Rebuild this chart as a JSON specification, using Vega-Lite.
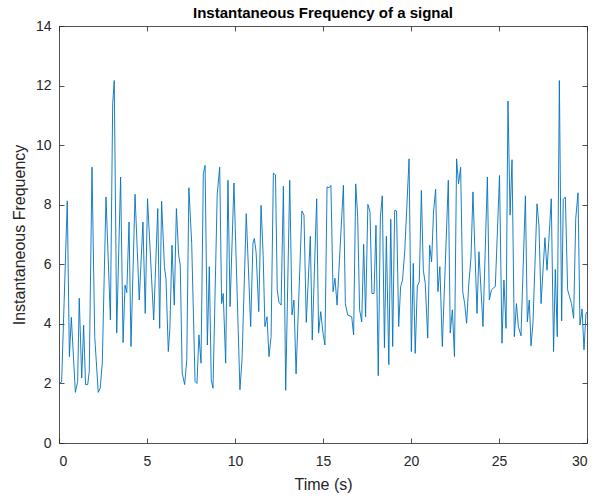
{
  "$schema": "https://vega.github.io/schema/vega-lite/v6.json",
  "width": 528,
  "height": 417,
  "autosize": "none",
  "padding": {"left": 59, "top": 26, "right": 12, "bottom": 55},
  "background": "white",
  "title": {"text": "Instantaneous Frequency of a signal", "font": "Liberation Sans", "fontSize": 15, "fontWeight": "bold", "color": "#000000", "offset": -2},
  "data": {"values": [
    {"t":0.0,"f":2.0},{"t":0.15,"f":2.05},{"t":0.47,"f":8.13},{"t":0.59,"f":2.9},{"t":0.7,"f":4.22},{"t":0.93,"f":1.7},{"t":1.06,"f":2.07},{"t":1.15,"f":4.86},{"t":1.29,"f":2.18},{"t":1.4,"f":3.96},{"t":1.51,"f":1.96},{"t":1.63,"f":1.96},{"t":1.72,"f":2.4},{"t":1.875,"f":9.26},{"t":2.03,"f":3.57},{"t":2.23,"f":1.7},{"t":2.34,"f":1.84},{"t":2.46,"f":2.68},{"t":2.67,"f":8.26},{"t":2.92,"f":4.13},{"t":3.05,"f":11.39},{"t":3.14,"f":12.17},{"t":3.28,"f":3.69},{"t":3.5,"f":8.93},{"t":3.64,"f":3.37},{"t":3.75,"f":5.3},{"t":3.85,"f":5.05},{"t":3.98,"f":7.42},{"t":4.09,"f":3.24},{"t":4.32,"f":8.35},{"t":4.56,"f":4.8},{"t":4.77,"f":7.42},{"t":4.9,"f":4.35},{"t":5.03,"f":8.2},{"t":5.38,"f":4.13},{"t":5.61,"f":7.87},{"t":5.72,"f":3.85},{"t":5.83,"f":8.12},{"t":5.99,"f":5.92},{"t":6.08,"f":5.5},{"t":6.21,"f":3.07},{"t":6.3,"f":3.85},{"t":6.42,"f":6.64},{"t":6.55,"f":4.63},{"t":6.67,"f":7.87},{"t":6.8,"f":6.3},{"t":6.89,"f":5.97},{"t":7.0,"f":2.35},{"t":7.14,"f":1.96},{"t":7.26,"f":2.8},{"t":7.38,"f":8.57},{"t":7.54,"f":6.7},{"t":7.73,"f":2.07},{"t":7.84,"f":2.0},{"t":7.95,"f":3.63},{"t":8.07,"f":2.68},{"t":8.2,"f":9.04},{"t":8.3,"f":9.32},{"t":8.43,"f":3.29},{"t":8.54,"f":5.92},{"t":8.65,"f":2.12},{"t":8.75,"f":1.84},{"t":8.99,"f":8.36},{"t":9.13,"f":9.26},{"t":9.24,"f":4.68},{"t":9.33,"f":5.02},{"t":9.47,"f":2.68},{"t":9.6,"f":8.82},{"t":9.72,"f":4.58},{"t":9.94,"f":8.73},{"t":10.28,"f":1.79},{"t":10.4,"f":2.8},{"t":10.64,"f":7.7},{"t":10.89,"f":3.91},{"t":11.02,"f":6.7},{"t":11.1,"f":6.87},{"t":11.2,"f":6.4},{"t":11.35,"f":4.41},{"t":11.48,"f":7.98},{"t":11.6,"f":6.3},{"t":11.7,"f":3.91},{"t":11.82,"f":4.24},{"t":11.93,"f":2.9},{"t":12.05,"f":3.57},{"t":12.18,"f":9.06},{"t":12.3,"f":9.0},{"t":12.4,"f":5.14},{"t":12.5,"f":4.72},{"t":12.62,"f":4.63},{"t":12.75,"f":8.62},{"t":12.88,"f":1.77},{"t":13.11,"f":8.82},{"t":13.24,"f":4.3},{"t":13.35,"f":4.8},{"t":13.47,"f":2.32},{"t":13.8,"f":7.79},{"t":13.92,"f":7.65},{"t":14.05,"f":4.05},{"t":14.28,"f":6.94},{"t":14.39,"f":3.46},{"t":14.64,"f":8.2},{"t":14.75,"f":3.69},{"t":14.87,"f":4.41},{"t":15.0,"f":3.69},{"t":15.11,"f":3.29},{"t":15.23,"f":8.6},{"t":15.34,"f":8.57},{"t":15.45,"f":8.65},{"t":15.57,"f":5.08},{"t":15.68,"f":5.53},{"t":15.8,"f":4.63},{"t":16.16,"f":8.65},{"t":16.27,"f":4.68},{"t":16.4,"f":4.3},{"t":16.63,"f":4.24},{"t":16.74,"f":3.63},{"t":16.86,"f":8.7},{"t":16.97,"f":7.6},{"t":17.08,"f":4.47},{"t":17.2,"f":4.07},{"t":17.31,"f":6.67},{"t":17.42,"f":4.24},{"t":17.55,"f":8.01},{"t":17.67,"f":7.76},{"t":17.78,"f":5.02},{"t":17.9,"f":5.02},{"t":18.01,"f":7.31},{"t":18.14,"f":2.26},{"t":18.26,"f":7.59},{"t":18.37,"f":8.3},{"t":18.49,"f":3.2},{"t":18.6,"f":6.94},{"t":18.74,"f":2.63},{"t":18.85,"f":7.51},{"t":18.96,"f":3.24},{"t":19.07,"f":7.81},{"t":19.18,"f":7.79},{"t":19.3,"f":3.91},{"t":19.41,"f":5.25},{"t":19.52,"f":5.47},{"t":19.65,"f":6.5},{"t":19.89,"f":9.54},{"t":20.02,"f":3.07},{"t":20.13,"f":6.03},{"t":20.24,"f":3.01},{"t":20.36,"f":5.27},{"t":20.47,"f":5.41},{"t":20.59,"f":8.48},{"t":20.7,"f":5.8},{"t":20.81,"f":5.36},{"t":20.95,"f":3.52},{"t":21.06,"f":6.64},{"t":21.17,"f":6.08},{"t":21.28,"f":7.76},{"t":21.4,"f":8.52},{"t":21.53,"f":5.08},{"t":21.64,"f":5.92},{"t":21.78,"f":3.24},{"t":22.12,"f":8.82},{"t":22.23,"f":3.69},{"t":22.35,"f":4.47},{"t":22.47,"f":2.9},{"t":22.59,"f":9.54},{"t":22.7,"f":8.7},{"t":22.82,"f":9.26},{"t":22.94,"f":5.08},{"t":23.05,"f":4.68},{"t":23.16,"f":4.02},{"t":23.28,"f":5.3},{"t":23.41,"f":6.25},{"t":23.52,"f":8.43},{"t":23.75,"f":4.35},{"t":23.86,"f":6.42},{"t":24.09,"f":3.91},{"t":24.34,"f":8.93},{"t":24.45,"f":4.8},{"t":24.57,"f":5.14},{"t":24.68,"f":5.2},{"t":24.79,"f":5.25},{"t":25.03,"f":8.98},{"t":25.17,"f":3.35},{"t":25.28,"f":5.47},{"t":25.4,"f":3.85},{"t":25.51,"f":11.48},{"t":25.63,"f":7.65},{"t":25.74,"f":9.51},{"t":25.87,"f":3.57},{"t":25.99,"f":4.68},{"t":26.1,"f":3.91},{"t":26.25,"f":3.6},{"t":26.5,"f":8.3},{"t":26.61,"f":4.07},{"t":26.72,"f":4.8},{"t":26.82,"f":3.26},{"t":26.93,"f":4.02},{"t":27.16,"f":8.03},{"t":27.27,"f":7.31},{"t":27.39,"f":4.68},{"t":27.61,"f":6.89},{"t":27.73,"f":5.8},{"t":27.97,"f":8.2},{"t":28.1,"f":3.07},{"t":28.2,"f":5.83},{"t":28.31,"f":3.57},{"t":28.43,"f":12.17},{"t":28.56,"f":4.1},{"t":28.65,"f":8.17},{"t":28.77,"f":8.26},{"t":28.9,"f":5.14},{"t":29.01,"f":4.91},{"t":29.12,"f":4.68},{"t":29.24,"f":4.19},{"t":29.36,"f":7.54},{"t":29.49,"f":8.4},{"t":29.6,"f":3.96},{"t":29.72,"f":4.5},{"t":29.83,"f":3.13},{"t":29.94,"f":4.35},{"t":30.0,"f":4.4}
  ]},
  "layer": [
    {
      "mark": {"type": "line", "color": "#0072BD", "strokeWidth": 0.9, "clip": true},
      "encoding": {
        "x": {"field": "t", "type": "quantitative", "scale": {"domain": [0, 30], "nice": false, "zero": false},
          "axis": {"orient": "bottom", "title": "Time (s)", "values": [0,5,10,15,20,25,30], "grid": false, "labelPadding": 16, "titlePadding": 8}},
        "y": {"field": "f", "type": "quantitative", "scale": {"domain": [0, 14], "nice": false, "zero": false},
          "axis": {"orient": "left", "title": "Instantaneous Frequency", "values": [0,2,4,6,8,10,12,14], "grid": false, "labelPadding": 13, "titlePadding": 8}}
      }
    },
    {
      "mark": {"type": "line", "opacity": 0},
      "encoding": {
        "x": {"field": "t", "type": "quantitative", "scale": {"domain": [0, 30], "nice": false, "zero": false},
          "axis": {"orient": "top", "title": null, "labels": false, "values": [0,5,10,15,20,25,30], "grid": false}},
        "y": {"field": "f", "type": "quantitative", "scale": {"domain": [0, 14], "nice": false, "zero": false},
          "axis": {"orient": "right", "title": null, "labels": false, "values": [0,2,4,6,8,10,12,14], "grid": false}}
      }
    }
  ],
  "resolve": {"axis": {"x": "independent", "y": "independent"}},
  "config": {
    "view": {"stroke": null},
    "axis": {
      "domainColor": "#262626", "domainWidth": 0.8,
      "tickColor": "#262626", "tickWidth": 0.8, "tickSize": -5,
      "labelFont": "Liberation Sans", "labelFontSize": 14, "labelColor": "#262626",
      "titleFont": "Liberation Sans", "titleFontSize": 16, "titleFontWeight": "normal", "titleColor": "#262626"
    }
  }
}
